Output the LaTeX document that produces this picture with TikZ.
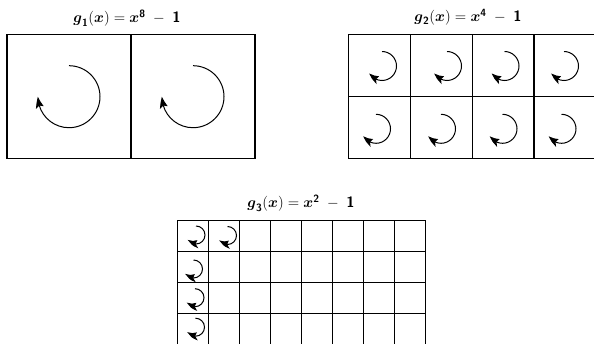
\documentclass[tikz,border=0pt]{standalone}
\usepackage{fix-cm}
\usepackage{amsmath,amssymb}
\usepackage{tikz}
\usetikzlibrary{arrows.meta,bending}

\newcommand{\sfb}[1]{\text{\sffamily\bfseries #1}}

\begin{document}
\begin{tikzpicture}[x=1pt, y=1pt,
    cell/.style={draw, line width=1.2pt},
    spin/.style={line width=1pt, -{Stealth[length=11pt, width=8pt, inset=2pt, bend]}},
    ttl/.style={font=\fontsize{15}{17}\selectfont}
  ]
  \clip (0,0) rectangle (594,343);

  \node[ttl] (t1) at (127,325) {$\boldsymbol{g}_{\sfb{1}}(\boldsymbol{x}) = \boldsymbol{x}^{\sfb{8}}\;-\;\sfb{1}$};
  \node[ttl] (t2) at (468,326) {$\boldsymbol{g}_{\sfb{2}}(\boldsymbol{x}) = \boldsymbol{x}^{\sfb{4}}\;-\;\sfb{1}$};
  \node[ttl] (t3) at (301,140) {$\boldsymbol{g}_{\sfb{3}}(\boldsymbol{x}) = \boldsymbol{x}^{\sfb{2}}\;-\;\sfb{1}$};

  % g1: 1 x 2
  \foreach \i in {0,1}
    \draw[cell] (7+124*\i,184.7) rectangle ++(124,124);
  \foreach \x in {69,193}
    \draw[spin] (\x,246.3) ++(90:31) arc[start angle=90, end angle=-180, radius=31];

  % g2: 2 x 4
  \foreach \i in {0,...,3}
    \foreach \j in {0,1}
      \draw[cell] (348.5+61.8*\i,184.7+61.8*\j) rectangle ++(61.8,61.8);
  \foreach \x/\y in {382/277, 447/277, 504.5/277, 564/277,
                     376/214.2, 441/214.2, 502.5/214.2, 561.5/214.2}
    \draw[spin] (\x,\y) ++(90:14.5) arc[start angle=90, end angle=-150, radius=14.5];

  % g3: 4 x 8
  \foreach \i in {0,...,7}
    \foreach \j in {0,...,3}
      \draw[cell] (177.3+31.05*\i,-1.9+31.05*\j) rectangle ++(31.05,31.05);
  \foreach \x/\y in {196/108, 227.5/107.5, 193.5/74, 195/45.3, 195.5/15.8}
    \draw[spin] (\x,\y) ++(90:9) arc[start angle=90, end angle=-150, radius=9];
\end{tikzpicture}
\end{document}
